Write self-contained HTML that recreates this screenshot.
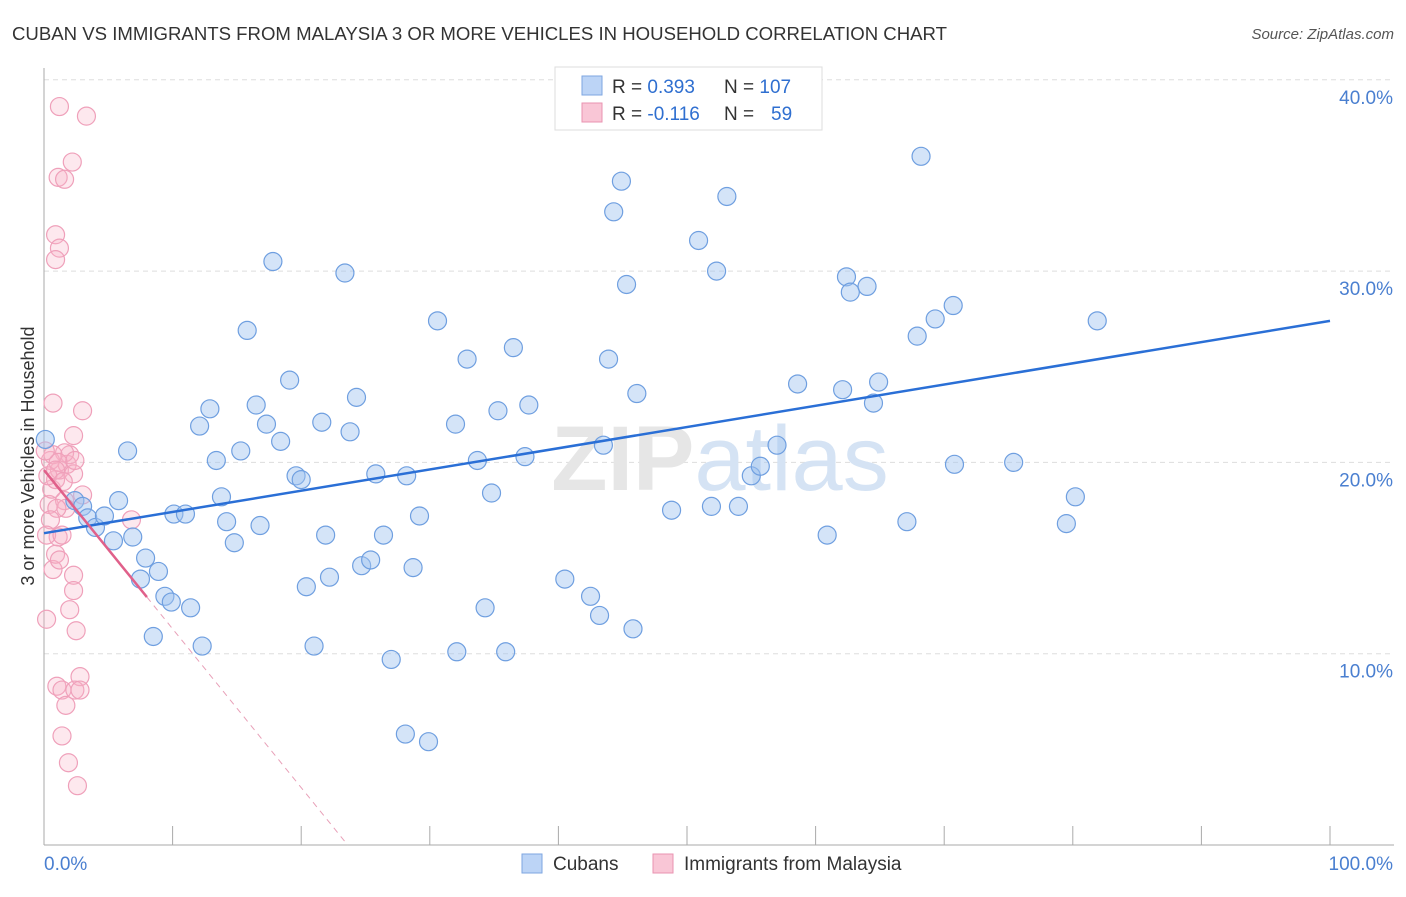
<!DOCTYPE html>
<html><head><meta charset="utf-8"><style>
body{margin:0;background:#fff;font-family:"Liberation Sans",sans-serif;}
svg text{font-family:"Liberation Sans",sans-serif;}
</style></head><body>
<svg id="chart" width="1406" height="892" xmlns="http://www.w3.org/2000/svg">
<text x="12" y="40" font-size="18.6" fill="#333">CUBAN VS IMMIGRANTS FROM MALAYSIA 3 OR MORE VEHICLES IN HOUSEHOLD CORRELATION CHART</text>
<text x="1394" y="39" font-size="15" fill="#555" text-anchor="end" font-style="italic">Source: ZipAtlas.com</text>
<g id="grid"></g>
<text x="720" y="490" font-size="92" fill="#e6e6e6" text-anchor="middle" font-family="Liberation Serif" font-weight="bold">ZIP<tspan fill="#d5e3f4" font-family="Liberation Sans" font-weight="normal">atlas</tspan></text>
<g id="pts"></g>
<g id="lines"></g>
<text transform="translate(34,456) rotate(-90)" font-size="18" fill="#333" text-anchor="middle">3 or more Vehicles in Household</text>
<g>
<rect x="555" y="67" width="267" height="63" fill="#fff" stroke="#ddd"/>
<rect x="582" y="76" width="20" height="19" fill="#bcd4f6" stroke="#7ea6e0"/>
<rect x="582" y="103" width="20" height="19" fill="#f9c6d6" stroke="#e993b0"/>
<text x="612" y="93" font-size="19" fill="#333">R = <tspan fill="#2f6fd0">0.393</tspan><tspan x="724">N = </tspan><tspan fill="#2f6fd0">107</tspan></text>
<text x="612" y="120" font-size="19" fill="#333">R = <tspan fill="#2f6fd0">-0.116</tspan><tspan x="724">N = </tspan><tspan fill="#2f6fd0" x="771">59</tspan></text>
</g>
<g>
<rect x="522" y="854" width="20" height="19" fill="#bcd4f6" stroke="#7ea6e0"/>
<text x="553" y="870" font-size="19" fill="#333">Cubans</text>
<rect x="653" y="854" width="20" height="19" fill="#f9c6d6" stroke="#e993b0"/>
<text x="684" y="870" font-size="19" fill="#333">Immigrants from Malaysia</text>
</g>
</svg>
<script>
const blueX=[0.1,6.5,5.8,2.4,3.0,3.4,4.0,4.7,5.4,6.9,7.9,8.9,7.5,9.4,9.9,11.4,8.5,12.3,10.1,11.0,14.2,13.8,14.8,16.8,13.4,15.3,12.1,12.9,16.5,17.3,18.4,19.1,15.8,17.8,23.4,19.6,20.0,21.6,23.8,24.3,25.8,28.2,30.6,32.0,32.9,36.5,35.3,37.7,33.7,37.4,34.8,29.2,21.9,20.4,22.2,24.7,25.4,26.4,28.7,21.0,27.0,32.1,35.9,28.1,29.9,34.3,40.5,42.5,43.2,45.8,43.5,43.9,44.9,44.3,45.3,46.1,48.8,50.9,51.9,52.3,53.1,54.0,55.0,55.7,57.0,58.6,60.9,62.1,62.4,62.7,64.0,64.5,64.9,67.1,67.9,68.2,69.3,70.7,70.8,75.4,79.5,80.2,81.9];
const blueY=[21.2,20.6,18.0,18.0,17.7,17.1,16.6,17.2,15.9,16.1,15.0,14.3,13.9,13.0,12.7,12.4,10.9,10.4,17.3,17.3,16.9,18.2,15.8,16.7,20.1,20.6,21.9,22.8,23.0,22.0,21.1,24.3,26.9,30.5,29.9,19.3,19.1,22.1,21.6,23.4,19.4,19.3,27.4,22.0,25.4,26.0,22.7,23.0,20.1,20.3,18.4,17.2,16.2,13.5,14.0,14.6,14.9,16.2,14.5,10.4,9.7,10.1,10.1,5.8,5.4,12.4,13.9,13.0,12.0,11.3,20.9,25.4,34.7,33.1,29.3,23.6,17.5,31.6,17.7,30.0,33.9,17.7,19.3,19.8,20.9,24.1,16.2,23.8,29.7,28.9,29.2,23.1,24.2,16.9,26.6,36.0,27.5,28.2,19.9,20.0,16.8,18.2,27.4];
const pinkX=[1.2,3.3,2.2,1.1,1.6,0.9,1.2,0.9,0.7,3.0,2.3,0.7,2.3,2.3,2.0,2.5,0.2,2.8,1.0,1.4,2.4,2.8,1.7,1.4,1.9,2.6,6.8,1.1,0.9,1.2,0.4,0.6,0.9,1.2,1.8,2.0,1.6,0.5,0.7,1.1,2.3,1.6,0.3,0.1,3.0,1.7,1.0,0.5,0.2,1.4,2.4,0.9,1.5];
const pinkY=[38.6,38.1,35.7,34.9,34.8,31.9,31.2,30.6,23.1,22.7,21.4,14.4,14.1,13.3,12.3,11.2,11.8,8.8,8.3,8.1,8.1,8.1,7.3,5.7,4.3,3.1,17.0,16.1,15.2,14.9,17.8,18.6,19.1,19.6,19.9,20.4,20.5,20.1,20.4,20.0,19.4,18.0,19.3,20.6,18.3,17.6,17.6,17.0,16.2,16.2,20.1,19.6,19.0];
const blueTrend=[16.3,27.4];
const pinkTrend=[19.6,-0.83];
const yTicks=[10,20,30,40];
const xTickLabels=["0.0%","100.0%"];
const NS="http://www.w3.org/2000/svg";
const sx=v=>44+v*12.86, sy=v=>845-v*19.13;
function mk(t,a,p){const e=document.createElementNS(NS,t);for(const k in a)e.setAttribute(k,a[k]);p.appendChild(e);return e;}
const grid=document.getElementById('grid');
yTicks.forEach(t=>{
 const l=mk('line',{x1:44,x2:1394,y1:sy(t),y2:sy(t),stroke:'#ddd','stroke-dasharray':'5,4'},grid);
 
 
 const tx=mk('text',{x:1393,y:sy(t)+24,'font-size':19,fill:'#4a7fd0','text-anchor':'end'},grid);
 tx.textContent=t.toFixed(1)+'%';
 
 
});
mk('line',{x1:44,x2:44,y1:68,y2:845,stroke:'#aaa'},grid);
mk('line',{x1:44,x2:1394,y1:845,y2:845,stroke:'#aaa'},grid);
for(let i=1;i<=10;i++){mk('line',{x1:sx(i*10),x2:sx(i*10),y1:826,y2:845,stroke:'#aaa'},grid);}
const xl0=mk('text',{x:44,y:870,'font-size':19,fill:'#4a7fd0'},grid);xl0.textContent=xTickLabels[0];


const xl1=mk('text',{x:1393,y:870,'font-size':19,fill:'#4a7fd0','text-anchor':'end'},grid);xl1.textContent=xTickLabels[1];


const pts=document.getElementById('pts');
pinkX.forEach((x,i)=>{const c=mk('circle',{cx:sx(x),cy:sy(pinkY[i]),r:9,fill:'rgba(248,180,200,0.3)',stroke:'#efa0ba','stroke-width':1.2},pts);
 
 });
blueX.forEach((x,i)=>{const c=mk('circle',{cx:sx(x),cy:sy(blueY[i]),r:9,fill:'rgba(160,195,240,0.45)',stroke:'#6f9fe0','stroke-width':1.2},pts);
 
 });
const lines=document.getElementById('lines');
const bl=mk('line',{x1:sx(0),y1:sy(blueTrend[0]),x2:sx(100),y2:sy(blueTrend[1]),stroke:'#2a6fd6','stroke-width':2.5},lines);


const pf=x=>pinkTrend[0]+pinkTrend[1]*x;
const xEnd=-pinkTrend[0]/pinkTrend[1];
const pd=mk('line',{x1:sx(8),y1:sy(pf(8)),x2:sx(xEnd),y2:sy(0),stroke:'#e8a0b8','stroke-width':1,'stroke-dasharray':'6,5'},lines);


const ps=mk('line',{x1:sx(0),y1:sy(pf(0)),x2:sx(8),y2:sy(pf(8)),stroke:'#e0608a','stroke-width':2.5},lines);


</script>
</body></html>
